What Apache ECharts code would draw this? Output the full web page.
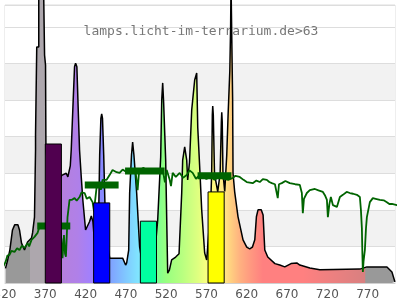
<!DOCTYPE html>
<html><head><meta charset="utf-8">
<script src="https://cdn.jsdelivr.net/npm/echarts@6/dist/echarts.min.js"></script>
<style>html,body{margin:0;padding:0;background:#fff}#c{width:400px;height:300px}</style>
</head><body><div id="c"></div>
<script>
// Lamp spectrum (wavelength nm, relative intensity)
const specNm = [320.6,323,326,329.3,332,334.3,336,338,340.5,344.2,348,352.9,354.2,356.6,357.9,357.9,359.4,359.4,361.9,361.9,367.8,369.1,370.3,370.8,375,385,391,396,398,401,402.2,404.3,406.3,407.6,409.2,410.5,412.5,414.6,416.6,420,421.6,425,427.1,429.1,431.5,434,436.5,437.5,439,440,441,442.5,444,446,450,451.1,466,469.7,471,473.5,474.7,477,478.4,480,483.4,487.1,490,505,509.5,513.2,514.5,515.7,516.9,519.4,520.7,521.9,524,526.8,531.8,536,539.3,540.5,543,545.5,546.7,549,551.7,555.4,557.9,559.2,562,564.1,567.8,570.3,572,575,576.5,577.3,577.8,578.5,580,581.5,584,587,588.5,589,589.6,590.5,592.7,595.2,596.8,599,600,600.5,601.5,602.5,603,605,609.2,615.4,620,623.7,627,630,632,634,636.2,638,640.3,642.4,646.1,655,661,667.2,675,682.1,685.9,698.3,710.7,760.4,769.1,794,800.2,803.9];
const specVal = [4.0,6.0,9.0,14.5,15.9,16.0,15.9,14.5,10.9,9.0,11.2,12.3,13.7,18.0,36.4,40.5,40.5,64.5,64.5,82,82,62.3,59.6,36,30,28,29.5,30,29,32,36.4,48.2,59.1,60.1,59.1,50,36.4,29.1,22.7,14.5,14.0,16.8,18.3,16.8,10,15,22,35,45,46.2,45,35,22,12,6.8,6.8,6.8,4.9,5.5,9,24.6,35,38.5,35,24.6,9.8,6,6,17.2,34.4,50,54.7,49.2,33.6,17.2,2.7,3.5,6.3,7.1,8,24.6,33.6,37.2,33.6,28.2,33,47.3,55.5,57.4,42.6,30,20,8.2,6.3,6,20,30,46,48.4,46,30,28,25,30,44,46.7,44,30,25,35,45.5,58,70,82,82,50,30,25,18.1,11.8,9.8,9.3,9.8,11.8,18.1,20,20.3,20,18.6,9.0,7.1,5.3,4.9,4.4,5.3,5.5,4.9,4.1,3.6,3.8,4.4,4.4,3.0,0.3];

// Reference daylight curve
const sunNm = [313.2,316.9,320.6,323,325.6,328,331.8,335,338,341,344.2,348,350,352.9,356.6,360.4,363,365.3,369.1,375.3,381.5,387.7,390,391.4,393.2,394.5,395.6,397.6,400.1,402.6,406.3,409,412.5,415,418.8,421.5,425,428.7,430.5,431.2,433.7,437.4,439,441.1,446.1,449.8,453.5,458.5,462.2,466,471,474.7,479,482.1,484.6,486,487.1,492,496,499.5,505,511.9,516,518.5,520.7,524.4,526,528.1,532,536.8,541,545.5,549,552.9,557,561.6,566,570,575,580,585,590,597,602.6,606,611.3,616,620,627.4,632,636.2,640,644.9,648,651.1,655,657.3,658.5,660,663.5,668,673.4,680,685.9,688.4,689.6,691,694.6,698.3,704.6,709,714.5,717,719.5,720.7,722.5,724.4,726.9,729,731.9,735.6,739.3,744,748,752,756.7,760.4,761.7,762.9,763.5,764.1,765,766.6,768,769.1,772.8,776.5,780,785.2,790,793.9,797,800.2,806.4,810.1];
const sunVal = [2.2,4.1,5.7,7.5,7.7,8.8,8.5,9.5,9.0,10.2,9.6,10.9,10.0,11.8,12.6,13.7,15.5,15.9,15.6,16.1,15.0,14.5,12,6.8,13.1,8,7.2,18.0,22.7,22.7,23.2,22.5,23.5,24.8,24.6,23,23.5,22.1,19.5,21.3,26.2,27.3,25.5,28.2,28.2,29.5,30.9,30.3,30.1,31,30.3,30.9,31.2,30.3,25.4,29.5,30.9,31.5,30.3,30.9,31.2,30.3,30.6,27.5,30.9,28.2,26.5,30.1,29,30.1,28.8,29.5,30.8,30.1,28.5,29.5,29.0,28.4,29.2,28.2,29.0,28.6,28.2,28.7,29.3,29.0,28.2,27.6,27.3,28,27.6,28.4,28.2,27.6,27.3,27.0,27.3,23.2,27,27.3,27.9,27.3,27.0,26.8,24.6,19.1,23,24.6,25.4,25.7,25.3,24.9,24.0,22.7,18.0,21.5,23.5,21.3,21.8,20.8,23.5,24.1,24.9,24.6,24.4,24.1,23.5,20,15.0,8,3.0,6,9.0,15,18.0,22.1,23.2,23.0,22.7,22.6,22.1,21.6,21.6,21.3,20.8];

// Band bars (start nm, end nm, value)
const barStart = [370, 430, 488, 572];
const barEnd   = [390, 450, 508, 592];
const barValue = [38.0, 21.9, 16.9, 24.9];

// Band averages of reference curve
const markStart = [360, 419, 469, 559];
const markEnd   = [401, 461, 518, 601];
const markValue = [15.6, 26.8, 30.6, 29.3];

const xTicks = {min: 320, max: 804, interval: 50};
const titleText = 'lamps.licht-im-terrarium.de>63';

// ---- styles ----
const barColors = ['#50004f', '#0000ff', '#00ffa0', '#ffff00'];
const gradNm = [320, 351, 351.5, 378, 380, 410, 428, 440, 450, 470, 487, 500, 510, 520, 540, 560, 572, 592, 600, 612, 625, 640, 690, 767, 767.5, 804];
const gradCol = ['#999999','#999999','#ada7ad','#ada7ad','#b880d8','#b080e8','#a080ff','#8888ff','#80a0ff','#80c8ff','#80e8ff','#80ffc0','#80ff90','#98ff80','#b8ff80','#e0ff80','#ffff80','#ffe888','#ffd080','#ffb080','#ff9880','#ff8080','#ff8080','#d88080','#999999','#999999'];

const n0 = specNm[0], n1 = specNm[specNm.length - 1];
const stops = gradNm.map((nm, i) => ({offset: Math.min(1, Math.max(0, (nm - n0) / (n1 - n0))), color: gradCol[i]}));

const specData = specNm.map((x, i) => [x, specVal[i]]);
const sunData = sunNm.map((x, i) => [x, sunVal[i]]);
const markData = [];
markStart.forEach((s, i) => { markData.push([s, markValue[i]], [markEnd[i], markValue[i]], [null, null]); });
const barData = barStart.map((s, i) => [s, barEnd[i], barValue[i], i]);

const chart = echarts.init(document.getElementById('c'), null, {renderer: 'canvas'});
chart.setOption({
  animation: false,
  grid: {left: 5, right: 5, top: 5, bottom: 17, show: true, borderColor: '#dddddd', borderWidth: 1, containLabel: false, outerBoundsMode: 'none'},
  xAxis: {
    type: 'value', min: xTicks.min, max: xTicks.max, interval: xTicks.interval,
    axisLine: {show: true, lineStyle: {color: '#d0d0d0'}},
    axisTick: {show: false},
    splitLine: {show: false},
    axisLabel: {show: true, color: '#555', fontSize: 12, fontFamily: 'DejaVu Sans', margin: 6, showMaxLabel: false, hideOverlap: false}
  },
  yAxis: {
    type: 'value', min: 0, max: 76, interval: 10,
    axisLine: {show: false}, axisTick: {show: false}, axisLabel: {show: false},
    splitLine: {show: true, lineStyle: {color: '#dddddd', width: 1}},
    splitArea: {show: true, areaStyle: {color: ['#ffffff','#f2f2f2','#ffffff','#f2f2f2','#ffffff','#f2f2f2','#ffffff','#ffffff']}}
  },
  graphic: [{
    type: 'text', x: 201, y: 32, z: 1,
    style: {text: titleText, font: '13px "DejaVu Sans Mono"', fill: '#777777', align: 'center', verticalAlign: 'middle'}
  }],
  series: [
    {
      type: 'line', data: specData, showSymbol: false, clip: false, z: 2,
      lineStyle: {color: '#000', width: 1.5},
      areaStyle: {opacity: 1, color: new echarts.graphic.LinearGradient(0, 0, 1, 0, stops)}
    },
    {
      type: 'line', data: sunData, showSymbol: false, clip: false, z: 3,
      lineStyle: {color: '#006400', width: 1.8}
    },
    {
      type: 'line', data: markData, showSymbol: false, connectNulls: false, z: 4,
      lineStyle: {color: '#006400', width: 7, cap: 'butt'}
    },
    {
      type: 'custom', data: barData, z: 5,
      renderItem: function (params, api) {
        const p0 = api.coord([api.value(0), api.value(2)]);
        const p1 = api.coord([api.value(1), 0]);
        return {
          type: 'rect',
          shape: {x: p0[0], y: p0[1], width: p1[0] - p0[0], height: p1[1] - p0[1]},
          style: {fill: barColors[api.value(3)], stroke: '#000', lineWidth: 1}
        };
      }
    }
  ]
});
</script>
</body></html>
